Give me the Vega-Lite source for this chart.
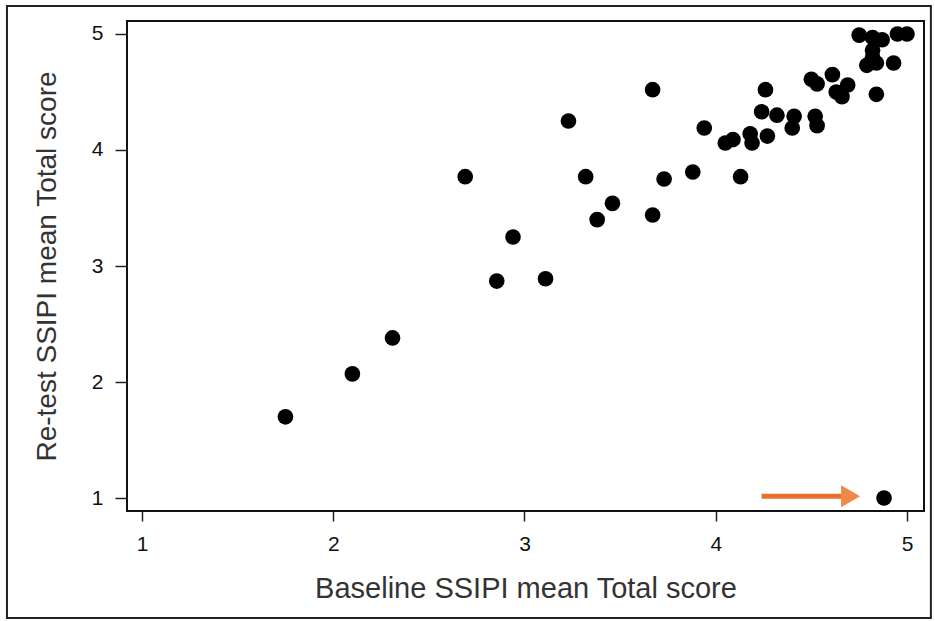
{
  "$schema": "https://vega.github.io/schema/vega-lite/v6.json",
  "width": 797,
  "height": 490,
  "autosize": "none",
  "padding": {"left": 127, "top": 21, "right": 11, "bottom": 110},
  "background": "white",
  "config": {
    "view": {"stroke": "#111111", "strokeWidth": 2},
    "font": "Liberation Sans"
  },
  "datasets": {
    "scores": [
      {"baseline": 1.75, "retest": 1.70},
      {"baseline": 2.10, "retest": 2.07},
      {"baseline": 2.31, "retest": 2.38},
      {"baseline": 2.69, "retest": 3.77},
      {"baseline": 2.855, "retest": 2.87},
      {"baseline": 2.94, "retest": 3.25},
      {"baseline": 3.11, "retest": 2.89},
      {"baseline": 3.23, "retest": 4.25},
      {"baseline": 3.32, "retest": 3.77},
      {"baseline": 3.38, "retest": 3.40},
      {"baseline": 3.46, "retest": 3.54},
      {"baseline": 3.67, "retest": 4.52},
      {"baseline": 3.67, "retest": 3.44},
      {"baseline": 3.73, "retest": 3.75},
      {"baseline": 3.88, "retest": 3.81},
      {"baseline": 3.94, "retest": 4.19},
      {"baseline": 4.05, "retest": 4.06},
      {"baseline": 4.09, "retest": 4.09},
      {"baseline": 4.13, "retest": 3.77},
      {"baseline": 4.18, "retest": 4.14},
      {"baseline": 4.19, "retest": 4.06},
      {"baseline": 4.27, "retest": 4.12},
      {"baseline": 4.24, "retest": 4.33},
      {"baseline": 4.26, "retest": 4.52},
      {"baseline": 4.32, "retest": 4.30},
      {"baseline": 4.41, "retest": 4.29},
      {"baseline": 4.40, "retest": 4.19},
      {"baseline": 4.52, "retest": 4.29},
      {"baseline": 4.53, "retest": 4.21},
      {"baseline": 4.50, "retest": 4.61},
      {"baseline": 4.53, "retest": 4.57},
      {"baseline": 4.61, "retest": 4.65},
      {"baseline": 4.69, "retest": 4.56},
      {"baseline": 4.63, "retest": 4.50},
      {"baseline": 4.66, "retest": 4.46},
      {"baseline": 4.84, "retest": 4.48},
      {"baseline": 4.75, "retest": 4.99},
      {"baseline": 4.82, "retest": 4.97},
      {"baseline": 4.87, "retest": 4.95},
      {"baseline": 4.95, "retest": 5.00},
      {"baseline": 5.00, "retest": 5.00},
      {"baseline": 4.82, "retest": 4.86},
      {"baseline": 4.82, "retest": 4.80},
      {"baseline": 4.79, "retest": 4.73},
      {"baseline": 4.84, "retest": 4.75},
      {"baseline": 4.93, "retest": 4.75},
      {"baseline": 4.88, "retest": 1.00}
    ],
    "arrow": [
      {"baseline": 4.24, "baseline_end": 4.68, "head": 4.705, "retest": 1.015}
    ],
    "frame": [
      {"x1": 0.294, "x2": 5.125, "y1": 5.241, "y2": -0.034}
    ]
  },
  "layer": [
    {
      "data": {"name": "frame"},
      "mark": {"type": "rect", "filled": false, "stroke": "#222222", "strokeWidth": 2, "clip": false},
      "encoding": {
        "x": {"field": "x1", "type": "quantitative", "title": "Baseline SSIPI mean Total score"},
        "x2": {"field": "x2"},
        "y": {"field": "y1", "type": "quantitative", "title": "Re-test SSIPI mean Total score"},
        "y2": {"field": "y2"}
      }
    },
    {
      "data": {"name": "scores"},
      "mark": {"type": "circle", "color": "#000000", "opacity": 1, "size": 245},
      "encoding": {
        "x": {
          "field": "baseline", "type": "quantitative",
          "title": "Baseline SSIPI mean Total score",
          "scale": {"domain": [0.9216, 5.089], "nice": false, "zero": false},
          "axis": {
            "values": [1, 2, 3, 4, 5], "format": "d", "grid": false, "domain": false,
            "tickColor": "#222222", "tickSize": 10, "tickWidth": 1.5,
            "labelPadding": 12, "labelFontSize": 21, "labelColor": "#111111",
            "titleFontSize": 29, "titleFontWeight": "normal", "titleColor": "#333333",
            "titleY": 77, "titleBaseline": "middle"
          }
        },
        "y": {
          "field": "retest", "type": "quantitative",
          "title": "Re-test SSIPI mean Total score",
          "scale": {"domain": [0.888, 5.112], "nice": false, "zero": false},
          "axis": {
            "values": [1, 2, 3, 4, 5], "format": "d", "grid": false, "domain": false,
            "tickColor": "#222222", "tickSize": 12, "tickWidth": 1.5,
            "labelPadding": 12, "labelFontSize": 21, "labelColor": "#111111",
            "titleFontSize": 28, "titleFontWeight": "normal", "titleColor": "#333333",
            "titleX": -80, "titleY": 245, "titleBaseline": "middle", "titleAngle": 270
          }
        }
      }
    },
    {
      "data": {"name": "arrow"},
      "mark": {"type": "rule", "color": "#E8702A", "strokeWidth": 5},
      "encoding": {
        "x": {"field": "baseline", "type": "quantitative", "title": "Baseline SSIPI mean Total score"},
        "x2": {"field": "baseline_end"},
        "y": {"field": "retest", "type": "quantitative", "title": "Re-test SSIPI mean Total score"}
      }
    },
    {
      "data": {"name": "arrow"},
      "mark": {"type": "point", "shape": "triangle-right", "filled": true, "color": "#EE8A48", "opacity": 1, "size": 480},
      "encoding": {
        "x": {"field": "head", "type": "quantitative", "title": "Baseline SSIPI mean Total score"},
        "y": {"field": "retest", "type": "quantitative", "title": "Re-test SSIPI mean Total score"}
      }
    }
  ]
}
